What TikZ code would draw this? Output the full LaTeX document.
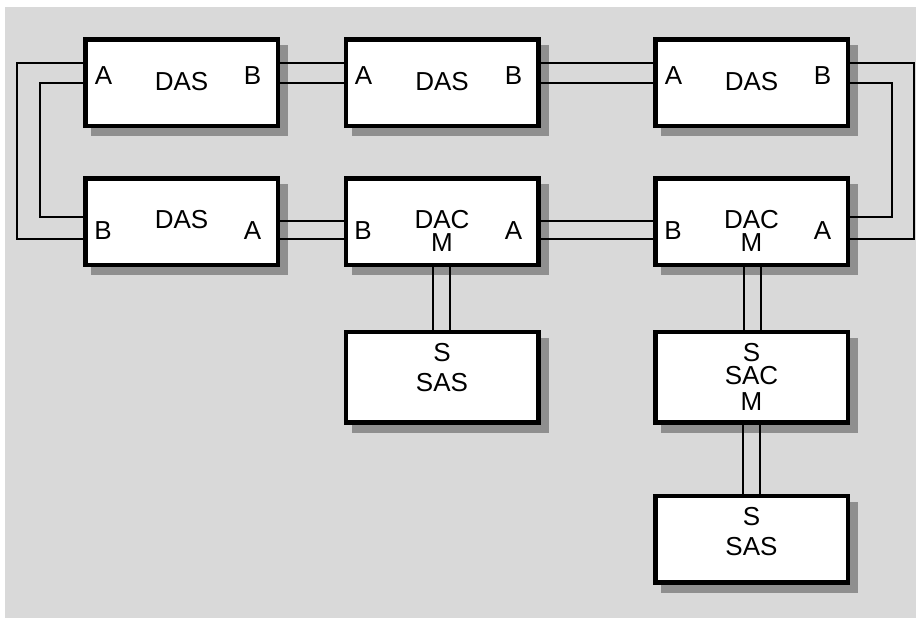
\documentclass[tikz,border=0pt]{standalone}
\usepackage{fontspec}
\setmainfont{Liberation Sans}
\usetikzlibrary{shadows}

\definecolor{bggray}{RGB}{217,217,217}
\definecolor{shadowgray}{RGB}{143,143,143}

\tikzset{
	station/.style={draw, line width=4.5pt, fill=white, inner sep=0pt,
		minimum width=192.5pt, minimum height=86.5pt,
		general shadow={fill=shadowgray, draw=shadowgray, line width=4.5pt,
			shadow xshift=8pt, shadow yshift=-8pt}},
	tall/.style={minimum height=90.5pt},
	txt/.style={anchor=base, inner sep=0pt, text height=19pt, text depth=0pt,
		font=\fontsize{26}{30}\selectfont},
	link/.style={line width=2pt},
}

\begin{document}
\begin{tikzpicture}[x=1pt, y=1pt]
	\fill [white] (0,0) rectangle (916,618);
	\fill [bggray] (5,0) rectangle (916,611);
	% stations
	\node [station] (das1) at (181.5,535.3) {};
	\node [station] (das2) at (442,535.3) {};
	\node [station] (das3) at (751.5,535.3) {};
	\node [station] (das4) at (181.5,396) {};
	\node [station] (dac1) at (442,396) {};
	\node [station] (dac2) at (751.5,396) {};
	\node [station, tall] (sas1) at (442,240.6) {};
	\node [station, tall] (sac1) at (751.5,240.6) {};
	\node [station] (sas2) at (751.5,78.7) {};
	% texts
	\node [txt] (das1a) at (103.5,533.5) {A};
	\node [txt] (das1t) at (181.5,527.8) {DAS};
	\node [txt] (das1b) at (252.5,533.5) {B};
	\node [txt] (das2a) at (363.5,533.5) {A};
	\node [txt] (das2t) at (442,527.8) {DAS};
	\node [txt] (das2b) at (513.5,533.5) {B};
	\node [txt] (das3a) at (673.5,533.5) {A};
	\node [txt] (das3t) at (751.5,527.8) {DAS};
	\node [txt] (das3b) at (822.5,533.5) {B};
	\node [txt] (das4b) at (103,378) {B};
	\node [txt] (das4t) at (181.5,389) {DAS};
	\node [txt] (das4a) at (252.5,378) {A};
	\node [txt] (dac1b) at (363,378) {B};
	\node [txt] (dac1t) at (442,389) {DAC};
	\node [txt] (dac1m) at (442,366) {M};
	\node [txt] (dac1a) at (513.5,378) {A};
	\node [txt] (dac2b) at (673,378) {B};
	\node [txt] (dac2t) at (751.5,389) {DAC};
	\node [txt] (dac2m) at (751.5,366) {M};
	\node [txt] (dac2a) at (822.5,378) {A};
	\node [txt] (sas1s) at (442,256.5) {S};
	\node [txt] (sas1t) at (442,226) {SAS};
	\node [txt] (sac1s) at (751.5,256.5) {S};
	\node [txt] (sac1t) at (751.5,233) {SAC};
	\node [txt] (sac1m) at (751.5,207) {M};
	\node [txt] (sas2s) at (751.5,92) {S};
	\node [txt] (sas2t) at (751.5,62) {SAS};
	% ring, left loop
	\draw [link] ([yshift=19.7pt]das1.west) -- ++(-66.2,0) |- ([yshift=-17pt]das4.west);
	\draw [link] ([yshift=-0.8pt]das1.west) -- ++(-43.5,0) |- ([yshift=5pt]das4.west);
	% ring, top row
	\draw [link] ([yshift=19.7pt]das1.east) -- ([yshift=19.7pt]das2.west);
	\draw [link] ([yshift=-0.8pt]das1.east) -- ([yshift=-0.8pt]das2.west);
	\draw [link] ([yshift=19.7pt]das2.east) -- ([yshift=19.7pt]das3.west);
	\draw [link] ([yshift=-0.8pt]das2.east) -- ([yshift=-0.8pt]das3.west);
	% ring, right loop
	\draw [link] ([yshift=19.7pt]das3.east) -- ++(64.2,0) |- ([yshift=-17pt]dac2.east);
	\draw [link] ([yshift=-0.8pt]das3.east) -- ++(42.2,0) |- ([yshift=5pt]dac2.east);
	% ring, bottom row
	\draw [link] ([yshift=0.5pt]das4.east) -- ([yshift=0.5pt]dac1.west);
	\draw [link] ([yshift=-17pt]das4.east) -- ([yshift=-17pt]dac1.west);
	\draw [link] ([yshift=0.5pt]dac1.east) -- ([yshift=0.5pt]dac2.west);
	\draw [link] ([yshift=-17pt]dac1.east) -- ([yshift=-17pt]dac2.west);
	% trees
	\draw [link] ([xshift=-9pt]dac1.south) -- ([xshift=-9pt]sas1.north);
	\draw [link] ([xshift=7.5pt]dac1.south) -- ([xshift=7.5pt]sas1.north);
	\draw [link] ([xshift=-7.5pt]dac2.south) -- ([xshift=-7.5pt]sac1.north);
	\draw [link] ([xshift=9pt]dac2.south) -- ([xshift=9pt]sac1.north);
	\draw [link] ([xshift=-9pt]sac1.south) -- ([xshift=-9pt]sas2.north);
	\draw [link] ([xshift=8pt]sac1.south) -- ([xshift=8pt]sas2.north);
\end{tikzpicture}
\end{document}
